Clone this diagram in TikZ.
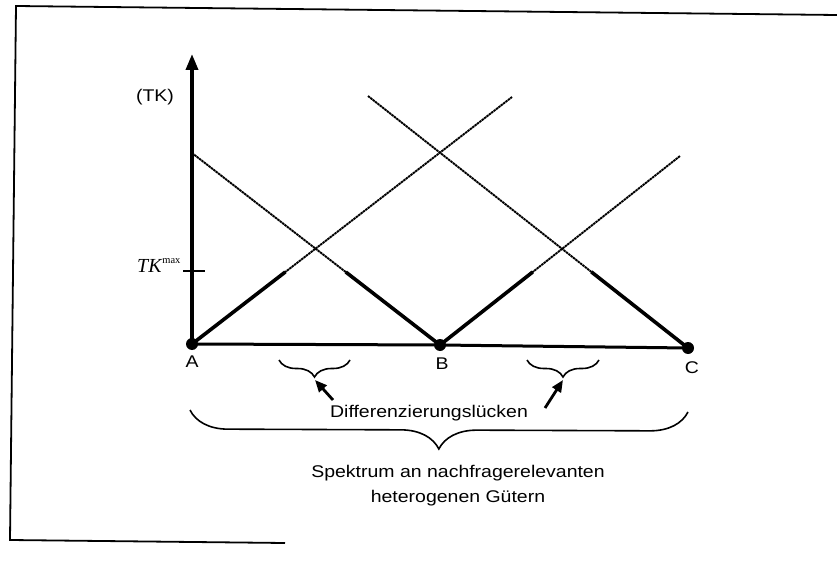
\documentclass[tikz,border=0pt]{standalone}
\usepackage{fontspec}
\setmainfont{Liberation Sans}[FakeStretch=1.15]
\newfontfamily\serifit{Liberation Serif}
\usetikzlibrary{arrows.meta,calc,decorations.pathreplacing}
\begin{document}
\begin{tikzpicture}[x=1bp,y=-1bp,
  frame/.style={line width=1.8bp},
  axisline/.style={line width=3.6bp},
  thinline/.style={line width=1.9bp, dash pattern=on 2.4bp off 0.6bp},
  thickline/.style={line width=3.6bp},
  dotnode/.style={circle, fill=black, inner sep=0pt, minimum size=12bp},
  lab/.style={font=\fontsize{17}{20}\selectfont, inner sep=0pt},
  smallbrace/.style={decorate, decoration={brace, mirror, amplitude=17bp}, line width=1.6bp},
  bigbrace/.style={decorate, decoration={brace, mirror, amplitude=38bp}, line width=1.6bp},
  pointer/.style={line width=2.8bp, -{Triangle[length=12bp,width=10bp]}}
]
\useasboundingbox (0,0) rectangle (837,572);
% frame
\coordinate (f1) at (837,15);
\coordinate (f2) at (16,6);
\coordinate (f3) at (10,540);
\coordinate (f4) at (285,543);
\draw[frame] (f1) -- (f2) -- (f3) -- (f4);

% points
\coordinate (A) at (192,344);
\coordinate (B) at (440,345);
\coordinate (C) at (688,348);
\coordinate (Ytop) at (192,54);
\coordinate (L1end) at (512,97);
\coordinate (L2start) at (192,153);
\coordinate (L3end) at (680,156);
\coordinate (L4start) at (368,96);

% thin full lines
\draw[thinline] (A) -- (L1end);
\draw[thinline] (L2start) -- (B);
\draw[thinline] (B) -- (L3end);
\draw[thinline] (L4start) -- (C);

% thick parts below TKmax
\draw[thickline] (A) -- ($(A)!0.2915!(L1end)$);
\draw[thickline] ($(L2start)!0.62!(B)$) -- (B);
\draw[thickline] (B) -- ($(B)!0.386!(L3end)$);
\draw[thickline] ($(L4start)!0.698!(C)$) -- (C);

% axes
\draw[axisline, -{Triangle[length=16bp,width=12bp]}] (A) -- (Ytop);
\draw[line width=3bp] (A) -- (B) -- (C);

% TKmax tick
\coordinate (t1) at (183,271);
\coordinate (t2) at (205,271);
\draw[line width=1.6bp] (t1) -- (t2);

% dots
\node[dotnode] (dA) at (A) {};
\node[dotnode] (dB) at (B) {};
\node[dotnode] (dC) at (C) {};

% labels
\node[lab] (lTK) at (155,97) {(TK)};
\node[inner sep=0pt, anchor=base west, font=\serifit\fontsize{20}{21}\selectfont] (lTKmax) at (137,272) {\textit{TK}\raisebox{0.42em}{\fontsize{10.5}{11}\selectfont max}};
\node[lab] (lA) at (192,362) {A};
\node[lab] (lB) at (442,364) {B};
\node[lab] (lC) at (692,368) {C};

% small braces
\coordinate (b1a) at (279,360);
\coordinate (b1b) at (350,360);
\coordinate (b2a) at (527,360);
\coordinate (b2b) at (599,360);
\draw[smallbrace] (b1a) -- (b1b);
\draw[smallbrace] (b2a) -- (b2b);

\node[lab, anchor=base] (diff) at (429,417) {Differenzierungslücken};

\coordinate (p1tip) at (315,380);
\coordinate (p1tail) at (333,400);
\coordinate (p2tip) at (563,380);
\coordinate (p2tail) at (545,408);
\draw[pointer] (p1tail) -- (p1tip);
\draw[pointer] (p2tail) -- (p2tip);

% big brace
\coordinate (bb1) at (190,410);
\coordinate (bb2) at (688,412);
\draw[bigbrace] (bb1) -- (bb2);

\node[lab, anchor=base, align=center, font=\fontsize{17}{25}\selectfont] (spek) at (458,502) {Spektrum an nachfragerelevanten\\heterogenen Gütern};
\end{tikzpicture}
\end{document}
